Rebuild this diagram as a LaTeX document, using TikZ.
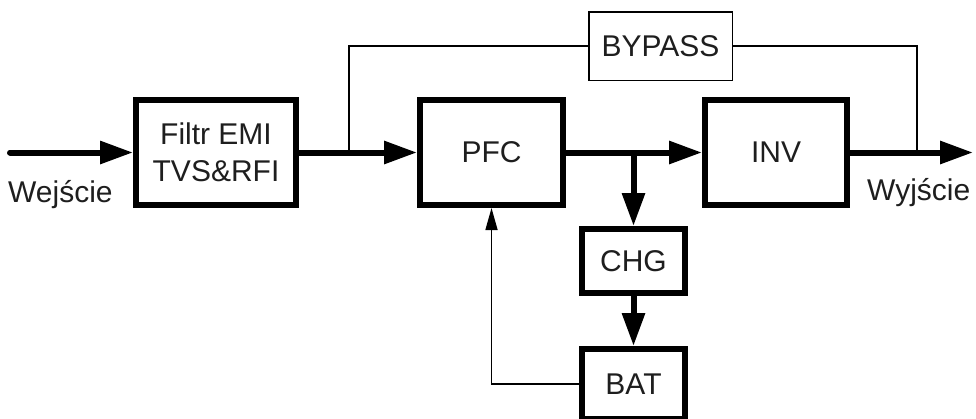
\documentclass[tikz,border=0pt]{standalone}
\usepackage{fontspec}
\setmainfont{Liberation Sans}
\usetikzlibrary{arrows.meta}
\definecolor{txt}{HTML}{1E1E1E}
\begin{document}
\begin{tikzpicture}[x=1pt,y=-1pt,
  thickbox/.style={draw=black,line width=6pt,fill=white,inner sep=0pt,text=txt,
    font=\fontsize{30}{37}\selectfont,align=center},
  thinbox/.style={draw=black,line width=1.5pt,fill=white,inner sep=0pt,text=txt,
    font=\fontsize{30}{37}\selectfont},
  thickarrow/.style={line width=6pt,-{Triangle[length=33pt,width=22pt]}},
  thinline/.style={line width=1.5pt},
  thinarrow/.style={line width=1.5pt,-{Triangle[length=22pt,width=12pt]}},
  lbl/.style={font=\fontsize{30}{37}\selectfont,text=txt,inner sep=0pt,anchor=base west}]
\path[use as bounding box] (0,0) rectangle (976,418);
\clip (0,0) rectangle (976,418);
% blocks
\node[thickbox,minimum width=160pt,minimum height=105pt] (filt) at (216,152.5) {Filtr EMI\\TVS\&RFI};
\node[thickbox,minimum width=143pt,minimum height=105pt] (pfc) at (491.5,152.5) {PFC};
\node[thickbox,minimum width=142pt,minimum height=105pt] (inv) at (776,152.5) {INV};
\node[thickbox,minimum width=103pt,minimum height=64pt] (chg) at (633.5,261) {CHG};
\node[thickbox,minimum width=103pt,minimum height=70pt] (bat) at (633.5,384) {BAT};
\node[thinbox,minimum width=143.5pt,minimum height=68.5pt] (byp) at (660.5,46) {BYPASS};
% coordinates
\coordinate (in) at (10,152.5);
\coordinate (out) at (973,152.5);
\coordinate (tapL) at (349,152.5);
\coordinate (tapR) at (917,152.5);
\coordinate (br) at (633.5,152.5);
\coordinate (fb) at (491.5,384);
% labels
\node[lbl] (win) at (8,202) {Wejście};
\node[lbl] (wout) at (867,200) {Wyjście};
% main path
\draw[thickarrow,line cap=round] (in) -- (filt.west);
\draw[thickarrow] (filt.east) -- (pfc.west);
\draw[thickarrow] (pfc.east) -- (inv.west);
\draw[thickarrow] (inv.east) -- (out);
\draw[thickarrow] (br) -- (chg.north);
\draw[thickarrow] (chg.south) -- (bat.north);
% bypass
\draw[thinline] (tapL) |- (byp.west);
\draw[thinline] (byp.east) -| (tapR);
% feedback
\draw[thinarrow] (bat.west) -- (fb) -- (pfc.south);
\end{tikzpicture}
\end{document}
